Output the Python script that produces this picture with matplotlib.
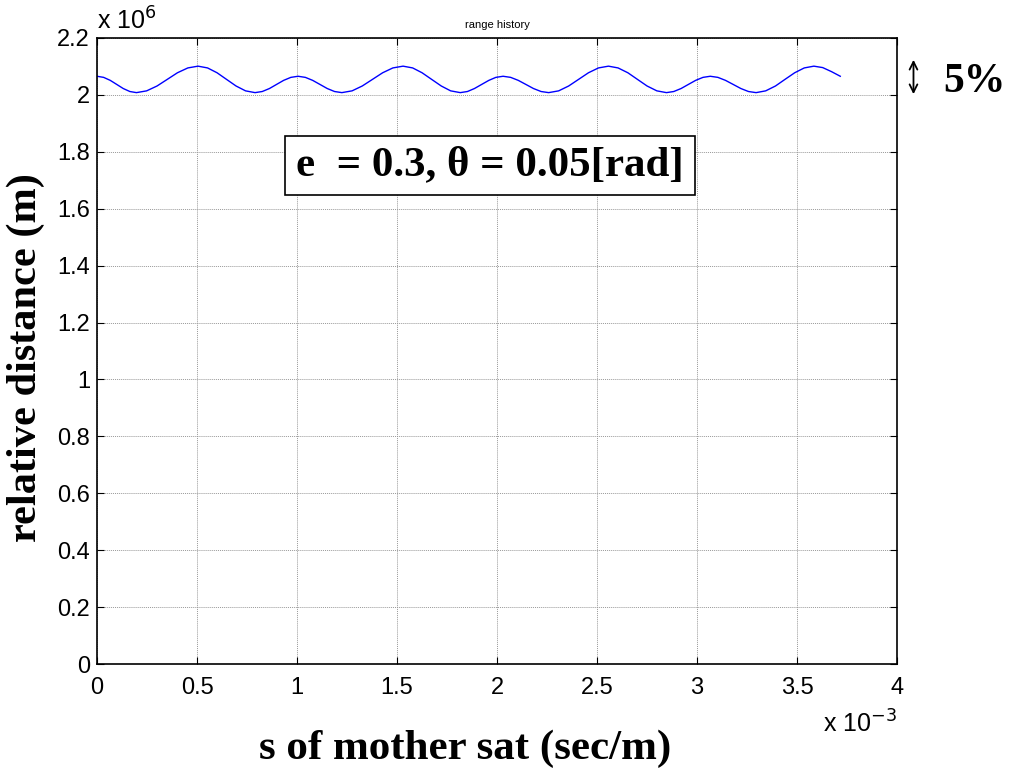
import matplotlib
matplotlib.use('Agg')
import matplotlib.pyplot as plt

# s of mother sat, in units of 1e-3 sec/m
s_vals = [0.0, 0.033, 0.066, 0.0985, 0.131, 0.164, 0.197,
          0.248, 0.300, 0.351, 0.402, 0.454, 0.505,
          0.5525, 0.600, 0.6475, 0.695, 0.7425, 0.79,
          0.826, 0.862, 0.8975, 0.933, 0.969, 1.005,
          1.0415, 1.078, 1.1145, 1.151, 1.1875, 1.224,
          1.275, 1.326, 1.377, 1.428, 1.479, 1.53,
          1.578, 1.625, 1.673, 1.721, 1.768, 1.816,
          1.852, 1.887, 1.923, 1.959, 1.994, 2.03,
          2.068, 2.106, 2.144, 2.182, 2.220, 2.258,
          2.308, 2.358, 2.4075, 2.457, 2.507, 2.557,
          2.605, 2.654, 2.702, 2.750, 2.799, 2.847,
          2.8835, 2.920, 2.9565, 2.993, 3.0295, 3.066,
          3.104, 3.142, 3.1805, 3.219, 3.257, 3.295,
          3.343, 3.392, 3.4395, 3.488, 3.536, 3.584,
          3.628, 3.672, 3.716]

# relative distance, in units of 1e6 m
dist_vals = [2.0655, 2.0616, 2.0511, 2.0368, 2.0224, 2.0119, 2.008,
             2.0142, 2.0313, 2.0545, 2.0778, 2.0948, 2.101,
             2.0948, 2.0778, 2.0545, 2.0313, 2.0142, 2.008,
             2.0119, 2.0224, 2.0368, 2.0511, 2.0616, 2.0655,
             2.0616, 2.0511, 2.0368, 2.0224, 2.0119, 2.008,
             2.0142, 2.0313, 2.0545, 2.0778, 2.0948, 2.101,
             2.0948, 2.0778, 2.0545, 2.0313, 2.0142, 2.008,
             2.0119, 2.0224, 2.0368, 2.0511, 2.0616, 2.0655,
             2.0616, 2.0511, 2.0368, 2.0224, 2.0119, 2.008,
             2.0142, 2.0313, 2.0545, 2.0778, 2.0948, 2.101,
             2.0948, 2.0778, 2.0545, 2.0313, 2.0142, 2.008,
             2.0119, 2.0224, 2.0368, 2.0511, 2.0616, 2.0655,
             2.0616, 2.0511, 2.0368, 2.0224, 2.0119, 2.008,
             2.0142, 2.0313, 2.0545, 2.0778, 2.0948, 2.101,
             2.096, 2.0818, 2.0655]

x_ticks = [0, 0.5, 1, 1.5, 2, 2.5, 3, 3.5, 4]
x_tick_labels = ['0', '0.5', '1', '1.5', '2', '2.5', '3', '3.5', '4']
y_ticks = [0, 0.2, 0.4, 0.6, 0.8, 1, 1.2, 1.4, 1.6, 1.8, 2, 2.2]
y_tick_labels = ['0', '0.2', '0.4', '0.6', '0.8', '1', '1.2', '1.4', '1.6', '1.8', '2', '2.2']

sans = ['Liberation Sans', 'DejaVu Sans']
serif = ['Liberation Serif', 'DejaVu Serif']

fig = plt.figure(figsize=(10.14, 7.69), dpi=100)
ax = fig.add_axes([0.0957, 0.1365, 0.789, 0.8141])

ax.plot(s_vals, dist_vals, color='#0000ff', lw=1.0)

ax.set_xlim(0, 4)
ax.set_ylim(0, 2.2)
ax.set_xticks(x_ticks)
ax.set_xticklabels(x_tick_labels, family=sans, fontsize=17)
ax.set_yticks(y_ticks)
ax.set_yticklabels(y_tick_labels, family=sans, fontsize=17)
ax.tick_params(direction='in', length=5, width=0.8, top=True, right=True, pad=5)
ax.tick_params(axis='x', pad=9)
ax.grid(True, color='#999999', linestyle=(0, (1, 1)), linewidth=0.7)
for sp in ax.spines.values():
    sp.set_linewidth(1.2)

ax.set_title('range history', family=sans, fontsize=8, pad=7)
ax.set_xlabel('s of mother sat (sec/m)', family=serif, fontweight='bold', fontsize=31)
ax.xaxis.set_label_coords(0.46, -0.105)
ax.set_ylabel('relative distance (m)', family=serif, fontweight='bold', fontsize=30.5)
ax.yaxis.set_label_coords(-0.065, 0.489)

# MATLAB-style exponent labels
ax.text(0.0, 1.005, r'x 10$^{6}$', transform=ax.transAxes, family=sans, fontsize=18,
        ha='left', va='bottom')
ax.text(0.9075, -0.074, r'x 10$^{-3}$', transform=ax.transAxes, family=sans, fontsize=18,
        ha='left', va='top')

# parameter box
ax.text(0.4913, 0.796, 'e  = 0.3, θ = 0.05[rad]', transform=ax.transAxes,
        family=serif, fontweight='bold', fontsize=31, ha='center', va='center',
        bbox=dict(boxstyle='square,pad=0.25', fc='white', ec='black', lw=1.2))

# 5% annotation on the right
ax.annotate('', xy=(1.0205, 0.9058), xytext=(1.0205, 0.9696), xycoords='axes fraction',
            arrowprops=dict(arrowstyle='<->', color='black', lw=1.3, mutation_scale=14),
            annotation_clip=False)
ax.text(1.058, 0.93, '5%', transform=ax.transAxes, family=serif, fontweight='bold',
        fontsize=30, ha='left', va='center')

fig.savefig('out.png', dpi=100)
